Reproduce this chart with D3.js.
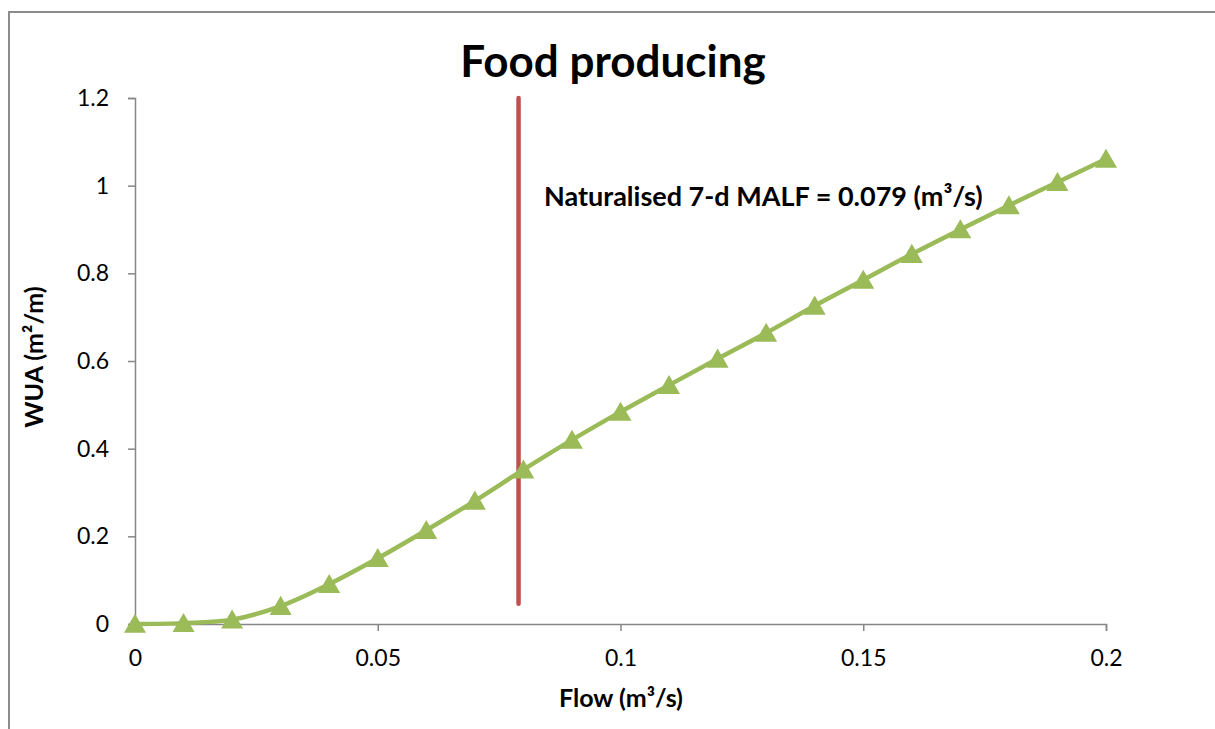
<!DOCTYPE html>
<html>
<head>
<meta charset="utf-8">
<script src="https://cdn.jsdelivr.net/npm/d3@7"></script>
<style>
  html, body { margin: 0; padding: 0; background: #fff; }
  svg { display: block; font-family: Lato, "Open Sans", sans-serif; }
</style>
</head>
<body>
<svg id="chart" width="1215" height="729"></svg>
<script>
// ---- data ----
const flow = [0, 0.01, 0.02, 0.03, 0.04, 0.05, 0.06, 0.07, 0.08, 0.09, 0.1,
              0.11, 0.12, 0.13, 0.14, 0.15, 0.16, 0.17, 0.18, 0.19, 0.2];
const wua  = [0, 0.002, 0.010, 0.041, 0.091, 0.150, 0.214, 0.281, 0.352, 0.420, 0.484,
              0.545, 0.605, 0.664, 0.726, 0.785, 0.844, 0.900, 0.955, 1.008, 1.061];
const malfFlow = [0.079, 0.079];
const malfWua = [0.046, 1.2];
const xTicks = [0, 0.05, 0.1, 0.15, 0.2];
const xTickLabels = ["0", "0.05", "0.1", "0.15", "0.2"];
const yTicks = [0, 0.2, 0.4, 0.6, 0.8, 1, 1.2];
const yTickLabels = ["0", "0.2", "0.4", "0.6", "0.8", "1", "1.2"];
const titleText = "Food producing";
const xTitle = "Flow (m³/s)";
const yTitle = "WUA (m²/m)";
const annotation = "Naturalised 7-d MALF = 0.079 (m³/s)";

// ---- layout ----
const svg = d3.select("#chart");
const plotL = 135, plotR = 1106, plotT = 98, plotB = 624;
const x = d3.scaleLinear().domain([0, 0.2]).range([plotL, plotR]);
const y = d3.scaleLinear().domain([0, 1.2]).range([plotB, plotT]);
const axisColor = "#868686";

// outer frame
svg.append("rect").attr("x", 9).attr("y", 12).attr("width", 1230).attr("height", 760)
  .attr("fill", "none").attr("stroke", "#8c8c8c").attr("stroke-width", 2);

// title
svg.append("text").attr("x", 613).attr("y", 77).attr("text-anchor", "middle")
  .attr("font-size", 44).attr("font-weight", "bold").attr("fill", "#000").text(titleText);

// axes
const xAxis = d3.axisBottom(x).tickValues(xTicks).tickSizeInner(7).tickSizeOuter(7).tickPadding(19)
  .tickFormat((d, i) => xTickLabels[i]);
const gx = svg.append("g").attr("transform", `translate(0,${plotB})`).call(xAxis);
const yAxis = d3.axisLeft(y).tickValues(yTicks).tickSizeInner(7).tickSizeOuter(7).tickPadding(19)
  .tickFormat((d, i) => yTickLabels[i]);
const gy = svg.append("g").attr("transform", `translate(${plotL},0)`).call(yAxis);
[gx, gy].forEach(g => {
  g.selectAll("path, line").attr("stroke", axisColor).attr("stroke-width", 1.5);
  g.selectAll("text").attr("font-size", 23).attr("fill", "#000")
    .attr("font-family", "Lato, 'Open Sans', sans-serif");
});

// axis titles
svg.append("text").attr("x", 621).attr("y", 707).attr("text-anchor", "middle")
  .attr("font-size", 25).attr("font-weight", "bold").text(xTitle);
svg.append("text").attr("transform", "translate(43,357) rotate(-90)").attr("text-anchor", "middle")
  .attr("font-size", 25).attr("font-weight", "bold").text(yTitle);

// MALF line
svg.append("line")
  .attr("x1", x(malfFlow[0])).attr("x2", x(malfFlow[1]))
  .attr("y1", y(malfWua[0])).attr("y2", y(malfWua[1]))
  .attr("stroke", "#C0504D").attr("stroke-width", 4.5).attr("stroke-linecap", "round");

// annotation
svg.append("text").attr("x", 544).attr("y", 206).attr("font-size", 27).attr("font-weight", "bold")
  .text(annotation);

// series
const pts = flow.map((f, i) => [f, wua[i]]);
const line = d3.line().x(d => x(d[0])).y(d => y(d[1])).curve(d3.curveCatmullRom.alpha(0.5));
svg.append("path").datum(pts).attr("d", line).attr("fill", "none")
  .attr("stroke", "#9BBB59").attr("stroke-width", 4.5).attr("stroke-linejoin", "round");

const tri = d3.symbol().type(d3.symbolTriangle).size(210);
svg.append("g").selectAll("path").data(pts).join("path")
  .attr("d", tri)
  .attr("transform", d => `translate(${x(d[0])},${y(d[1]) + 2.5})`)
  .attr("fill", "#9BBB59");
</script>
</body>
</html>
